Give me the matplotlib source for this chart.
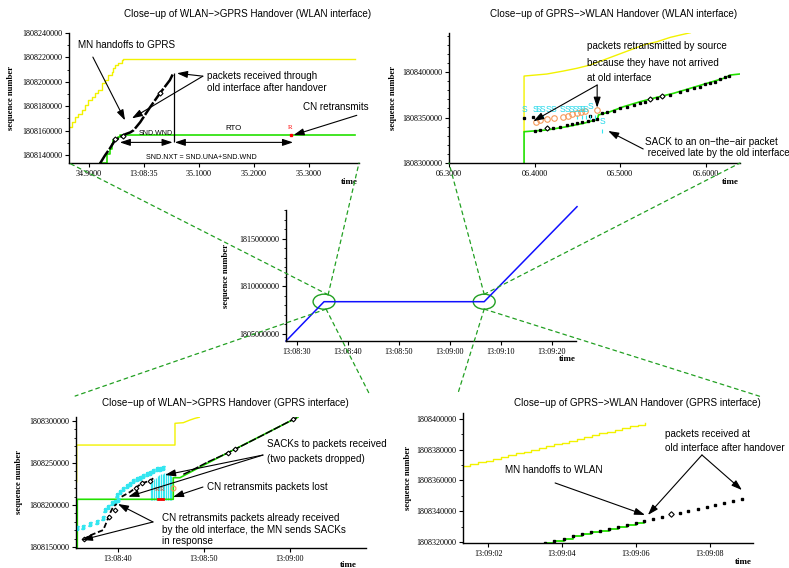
import matplotlib
matplotlib.use('Agg')
import matplotlib.pyplot as plt
from matplotlib.patches import Ellipse, ConnectionPatch
from matplotlib.ticker import MultipleLocator

plt.rcParams['font.family'] = ['Liberation Sans', 'DejaVu Sans']
SERIF = ['Liberation Serif', 'DejaVu Serif']

# ---------------- DATA ----------------
# Panel A: close-up WLAN->GPRS handover, WLAN interface (seconds after 13:08:00)
a_xticks = [34.9, 35.0, 35.1, 35.2, 35.3]
a_xlabels = ['34.9000', '13:08:35', '35.1000', '35.2000', '35.3000']
a_yticks = [1808140000, 1808160000, 1808180000, 1808200000, 1808220000, 1808240000]
a_win_t = [34.862, 34.8685, 34.8745, 34.8805, 34.8867, 34.8927, 34.8987, 34.9049, 34.9109, 34.9169,
           34.9231, 34.9291, 34.9351, 34.9413, 34.9442, 34.9473, 34.9533, 34.9595, 34.9624, 35.384]
a_win_s = [1808162900, 1808167000, 1808171100, 1808173900, 1808176600, 1808180700, 1808184900, 1808187600,
           1808190400, 1808193100, 1808198600, 1808201300, 1808205400, 1808208200, 1808211000, 1808213700,
           1808215100, 1808217800, 1808218400, 1808218400]
a_ack_t = [34.920, 34.9322, 34.9382, 34.9413, 34.9442, 34.9473, 34.9533, 34.9564, 35.384]
a_ack_s = [1808133000, 1808141000, 1808145100, 1808149200, 1808151900, 1808153300, 1808154700, 1808156050, 1808156050]
a_sent_t = [34.920, 34.929, 34.938, 34.947, 34.953, 34.958, 34.966, 34.975, 34.981, 34.993, 35.011, 35.029, 35.047, 35.053]
a_sent_s = [1808133000, 1808139600, 1808145400, 1808151900, 1808153600, 1808155000, 1808157000, 1808158500,
            1808160200, 1808166800, 1808179100, 1808190600, 1808201300, 1808206800]
a_diam_t = [34.947, 34.962, 35.029]
a_diam_s = [1808152800, 1808155500, 1808190400]
a_retx_t = [35.268]
a_retx_s = [1808156050]
a_last_t = 35.055          # time of last segment (start of RTO)
a_wnd_start = 34.956       # SND.WND arrow start
a_rto_end = 35.271         # RTO arrow end
a_arrow_s = 1808150300

# Panel B: close-up GPRS->WLAN handover, WLAN interface (seconds after 13:09:00)
b_xticks = [6.3, 6.4, 6.5, 6.6]
b_xlabels = ['06.3000', '06.4000', '06.5000', '06.6000']
b_yticks = [1808300000, 1808350000, 1808400000]
b_win_t = [6.3877, 6.3877, 6.4143, 6.4337, 6.4494, 6.4649, 6.4805, 6.4961, 6.5117, 6.5272, 6.5429, 6.5585, 6.5702, 6.5819]
b_win_s = [1808334400, 1808395600, 1808397800, 1808401100, 1808404100, 1808407700, 1808413200, 1808418700,
           1808424200, 1808429700, 1808433300, 1808438100, 1808440700, 1808443200]
b_ack_t = [6.3877, 6.3877, 6.4143, 6.4377, 6.4571, 6.4735, 6.4746, 6.4883, 6.5039, 6.5234, 6.5429, 6.5623,
           6.5819, 6.6014, 6.6208, 6.6287, 6.6395]
b_ack_s = [1808300000, 1808334400, 1808336300, 1808339900, 1808343600, 1808348000, 1808352800, 1808356400,
           1808361900, 1808367400, 1808372200, 1808376600, 1808382100, 1808387600, 1808393100, 1808396700, 1808397800]
b_sent_t = [6.4006, 6.4064, 6.4143, 6.4220, 6.4298, 6.4377, 6.4435, 6.4494, 6.4552, 6.4629, 6.4688, 6.4786,
            6.4844, 6.4922, 6.5000, 6.5078, 6.5156, 6.5234, 6.5292, 6.5351, 6.5429, 6.5488, 6.5585, 6.5702,
            6.5780, 6.5857, 6.5936, 6.5994, 6.6053, 6.6111, 6.6170, 6.6228, 6.6267,
            6.3877, 6.3979, 6.4649, 6.4735]
b_sent_s = [1808335200, 1808336300, 1808338100, 1808338800, 1808339900, 1808341800, 1808342900, 1808343600,
            1808344700, 1808346200, 1808347300, 1808354600, 1808356400, 1808357500, 1808360100, 1808361900,
            1808363700, 1808366300, 1808367400, 1808370300, 1808371800, 1808373600, 1808375100, 1808378000,
            1808380200, 1808382100, 1808383900, 1808386500, 1808387600, 1808389300, 1808392300, 1808394800,
            1808395900, 1808349100, 1808350200, 1808352000, 1808348000]
b_diam_t = [6.414, 6.535, 6.549]
b_diam_s = [1808338100, 1808370300, 1808373600]
b_sack_t = [6.388, 6.401, 6.405, 6.409, 6.416, 6.422, 6.433, 6.438, 6.443, 6.448, 6.452, 6.456, 6.460, 6.465, 6.479]
b_sack_s = [1808359000, 1808359000, 1808359000, 1808359000, 1808359000, 1808359000, 1808359000, 1808359000,
            1808359000, 1808359000, 1808359000, 1808359000, 1808359000, 1808362600, 1808345400]
b_sbar_t = [6.404, 6.410, 6.450, 6.455, 6.460, 6.465, 6.470, 6.479]
b_sbar_s = [1808350200, 1808350200, 1808350200, 1808350200, 1808350200, 1808350200, 1808350200, 1808335200]
b_retx_t = [6.4018, 6.4064, 6.4150, 6.4232, 6.4330, 6.4388, 6.4442, 6.4494, 6.4540, 6.4591, 6.4735]
b_retx_s = [1808345400, 1808347300, 1808348400, 1808349800, 1808350900, 1808352000, 1808353500, 1808354600,
            1808355700, 1808357100, 1808358200]

# Main panel: whole connection (seconds after 13:08:00)
m_xticks = [30, 40, 50, 60, 70, 80]
m_xlabels = ['13:08:30', '13:08:40', '13:08:50', '13:09:00', '13:09:10', '13:09:20']
m_yticks = [1805000000, 1810000000, 1815000000]
m_t = [27.84, 35.3, 66.7, 84.9]
m_s = [1804263000, 1808400000, 1808400000, 1818400000]
m_zoom_t = [35.3, 66.7]
m_zoom_s = [1808400000, 1808400000]

# Panel D: close-up WLAN->GPRS handover, GPRS interface (seconds after 13:08:00)
d_xticks = [40, 50, 60]
d_xlabels = ['13:08:40', '13:08:50', '13:09:00']
d_yticks = [1808150000, 1808200000, 1808250000, 1808300000]
d_win_t = [35.20, 35.20, 46.63, 46.63, 47.59, 48.37, 48.95, 49.45]
d_win_s = [1808227700, 1808271400, 1808271400, 1808297300, 1808298000, 1808301200, 1808303200, 1808304500]
d_ack_t = [35.27, 35.27, 46.43, 46.43, 47.21, 49.5, 52.0, 54.5, 57.0, 59.5, 60.9]
d_ack_s = [1808148800, 1808206800, 1808206800, 1808232500, 1808232500, 1808245000, 1808258200,
           1808271200, 1808284200, 1808297200, 1808304400]
d_sent_t = [47.6, 48.37, 50.5, 52.83, 53.60, 57.0, 60.38, 60.97]
d_sent_s = [1808236500, 1808240200, 1808251500, 1808262300, 1808266300, 1808284000, 1808302000, 1808305000]
d_low_t = [35.97, 37.0, 38.29, 38.69, 39.07, 39.45, 39.85]
d_low_s = [1808159200, 1808164800, 1808170200, 1808180100, 1808190100, 1808198000, 1808201200]
d_up_t = [40.43, 41.40, 42.76, 43.72, 44.10]
d_up_s = [1808209900, 1808215500, 1808225800, 1808228900, 1808231800]
d_diam_t = [36.1, 38.9, 39.6, 42.1, 42.76, 43.72, 52.83, 53.60, 60.38]
d_diam_s = [1808159800, 1808186000, 1808194000, 1808220000, 1808225800, 1808228900, 1808262300, 1808266300, 1808302000]
d_sack_up_t = [39.85, 40.23, 40.62, 41.01, 41.40, 41.78, 42.17, 42.56, 42.94, 43.34, 43.72, 44.10, 44.50, 44.88, 45.27]
d_sack_up_s = [1808211900, 1808215500, 1808219100, 1808222600, 1808225000, 1808228600, 1808231000, 1808232700,
               1808234500, 1808236900, 1808238700, 1808240500, 1808242300, 1808242900, 1808243500]
d_sack_lo_t = [35.20, 35.97, 36.74, 37.52, 38.29, 38.49, 38.87, 39.27, 39.65, 40.03]
d_sack_lo_s = [1808172300, 1808174200, 1808177000, 1808180100, 1808184200, 1808194100, 1808198000, 1808202000,
               1808203900, 1808206000]
d_hatch_t = [43.8, 44.0, 44.2, 44.4, 44.6, 44.8, 45.0, 45.2, 45.4, 45.6, 45.8, 46.0, 46.2]
d_hatch_top = [1808226000, 1808228500, 1808230500, 1808232500, 1808234000, 1808235500, 1808236500,
               1808237300, 1808238000, 1808238000, 1808237300, 1808236000, 1808234000]
d_hatch_bot = 1808206500
d_R_t = [44.6, 45.1]
d_R_s = [1808217900, 1808217900]
d_retx_t = [46.36]
d_retx_s = [1808219900]
d_red_t = [44.6, 45.2]
d_red_s = [1808207000, 1808207000]

# Panel E: close-up GPRS->WLAN handover, GPRS interface (seconds after 13:08:00)
e_xticks = [62, 64, 66, 68]
e_xlabels = ['13:09:02', '13:09:04', '13:09:06', '13:09:08']
e_yticks = [1808320000, 1808340000, 1808360000, 1808380000, 1808400000]
e_win_t = [61.32, 61.52, 61.72, 61.93, 62.13, 62.34, 62.55, 62.75, 62.96, 63.16, 63.37, 63.57, 63.78,
           63.99, 64.19, 64.40, 64.60, 64.81, 65.01, 65.22, 65.43, 65.63, 65.84, 66.04, 66.24]
e_win_s = [1808369400, 1808370600, 1808371800, 1808372900, 1808374100, 1808375300, 1808376500, 1808377600,
           1808378800, 1808380000, 1808381200, 1808382300, 1808383500, 1808384700, 1808385900, 1808387000,
           1808388200, 1808389400, 1808390600, 1808391700, 1808392900, 1808394100, 1808395300, 1808396400, 1808397400]
e_ack_t = [63.54, 63.78, 64.04, 64.29, 64.53, 64.78, 65.03, 65.27, 65.51, 65.75, 66.00, 66.22]
e_ack_s = [1808319500, 1808320700, 1808322200, 1808323700, 1808325000, 1808326300, 1808327400, 1808328500,
           1808329800, 1808331100, 1808332600, 1808333900]
e_old_t = [66.47, 66.71, 67.19, 67.41, 67.66, 67.91, 68.14, 68.38, 68.61, 68.86]
e_old_s = [1808335000, 1808336500, 1808339100, 1808340200, 1808341500, 1808343000, 1808344300, 1808345600,
           1808346900, 1808348200]
e_diam_t = [66.94]
e_diam_s = [1808338200]

# ---------------- FIGURE ----------------
W, H = 789, 568
fig = plt.figure(figsize=(W / 100, H / 100), dpi=100)


def add_ax(left, top, right, bottom):
    return fig.add_axes([left / W, 1 - bottom / H, (right - left) / W, (bottom - top) / H])


YEL = '#f2f200'
GRN = '#22e000'
CYA = '#33e6f0'
ORA = '#f59a5a'
ANN = dict(arrowstyle='-|>,head_length=0.9,head_width=0.3', color='black', lw=0.8, mutation_scale=7,
           shrinkA=0, shrinkB=0)


def style(ax, xt, xl, yt, yminor, xlim, ylim, ylab_x, time_xy, title=None, title_xy=None):
    for s in ['top', 'right']:
        ax.spines[s].set_visible(False)
    for s in ['left', 'bottom']:
        ax.spines[s].set_linewidth(1.0)
    ax.set_xlim(*xlim)
    ax.set_ylim(*ylim)
    ax.set_xticks(xt)
    ax.set_xticklabels(xl, fontfamily=SERIF, fontsize=5.9)
    ax.set_yticks(yt)
    ax.set_yticklabels([str(v) for v in yt], fontfamily=SERIF, fontsize=5.9)
    ax.yaxis.set_minor_locator(MultipleLocator(yminor))
    ax.tick_params(which='major', length=3, width=0.8, pad=2)
    ax.tick_params(which='minor', length=1.5, width=0.6)
    ax.set_ylabel('sequence number', fontfamily=SERIF, fontsize=6.2, fontweight='bold')
    ax.yaxis.set_label_coords(ylab_x, 0.5)
    ax.text(time_xy[0], time_xy[1], 'time', transform=ax.transAxes, fontfamily=SERIF, fontsize=6.5,
            fontweight='bold', ha='center', va='center')
    if title:
        ax.text(title_xy[0], title_xy[1], title, transform=ax.transAxes, fontsize=7.1, ha='center', va='center')
    ax.patch.set_alpha(0)


def arrow(ax, tail, head, style=None):
    props = dict(ANN)
    if style:
        props['arrowstyle'] = style
    ax.annotate('', xy=head, xytext=tail, xycoords='data', textcoords='data', arrowprops=props,
                annotation_clip=False)


# ---- Panel A ----
axA = add_ax(69, 33, 359, 163)
axA.step(a_win_t, a_win_s, where='post', color=YEL, lw=1.0)
axA.step(a_ack_t, a_ack_s, where='post', color=GRN, lw=1.2)
axA.plot(a_sent_t, a_sent_s, color='black', lw=1.8, dashes=(6, 0.8))
axA.plot(a_diam_t, a_diam_s, ls='none', marker='D', ms=2.6, mfc='white', mec='black', mew=0.8)
axA.plot(a_retx_t, a_retx_s, ls='none', marker='s', ms=1.8, color='red')
axA.text(a_retx_t[0] - 0.002, a_retx_s[0] + 5000, 'R', color='red', fontfamily=SERIF, fontsize=5, ha='center')
axA.vlines(a_last_t, a_arrow_s, a_sent_s[-1], color='black', lw=0.9)
arrow(axA, (a_wnd_start, a_arrow_s), (a_last_t - 0.003, a_arrow_s), '<|-|>,head_length=0.9,head_width=0.3')
arrow(axA, (a_last_t + 0.001, a_arrow_s), (a_rto_end, a_arrow_s), '<|-|>,head_length=0.9,head_width=0.3')
axA.text(35.022, 1808157950, 'SND.WND', fontsize=5.0, ha='center', va='center')
axA.text(35.162, 1808161800, 'RTO', fontsize=5.7, ha='center', va='center')
axA.text(35.105, 1808138000, 'SND.NXT = SND.UNA+SND.WND', fontsize=5.1, ha='center', va='center')
axA.text(34.880, 1808230100, 'MN handoffs to GPRS', fontsize=7.1, ha='left', va='center')
arrow(axA, (34.907, 1808220250), (34.9655, 1808168400))
axA.text(35.1145, 1808200100, 'packets received through\nold interface after handover', fontsize=7.1,
         ha='left', va='center', linespacing=1.25)
arrow(axA, (35.107, 1808204600), (35.060, 1808207000))
arrow(axA, (35.107, 1808204600), (34.978, 1808170000))
axA.text(35.289, 1808179100, 'CN retransmits', fontsize=7.1, ha='left', va='center')
arrow(axA, (35.387, 1808172500), (35.272, 1808156300))
style(axA, a_xticks, a_xlabels, a_yticks, 10000, (34.8636, 35.391), (1808133400, 1808240000),
      -0.186, (0.966, -0.146), 'Close\u2212up of WLAN\u2212>GPRS Handover (WLAN interface)', (0.617, 1.146))

# ---- Panel B ----
axB = add_ax(449, 33, 740, 163)
axB.plot(b_win_t, b_win_s, color=YEL, lw=1.0)
axB.plot(b_ack_t, b_ack_s, color=GRN, lw=1.2)
axB.plot(b_sent_t, b_sent_s, ls='none', marker='s', ms=1.4, color='black')
axB.plot(b_diam_t, b_diam_s, ls='none', marker='D', ms=2.6, mfc='white', mec='black', mew=0.8)
for t, s in zip(b_sack_t, b_sack_s):
    axB.text(t, s, 'S', color='#22d8ea', fontsize=6.2, ha='center', va='center')
axB.plot(b_sbar_t, b_sbar_s, ls='none', marker='|', ms=3, mew=0.8, color=CYA)
axB.plot(b_retx_t, b_retx_s, ls='none', marker='o', ms=4, mfc='none', mec=ORA, mew=0.8)
axB.text(6.4614, 1808428570, 'packets retransmitted by source', fontsize=7.1, ha='left', va='center')
axB.text(6.4614, 1808409890, 'because they have not arrived', fontsize=7.1, ha='left', va='center')
axB.text(6.4614, 1808393410, 'at old interface', fontsize=7.1, ha='left', va='center')
arrow(axB, (6.4731, 1808385700), (6.3985, 1808346000))
arrow(axB, (6.4731, 1808385700), (6.4731, 1808360800))
axB.text(6.5292, 1808323080, 'SACK to an on\u2212the\u2212air packet', fontsize=7.1, ha='left', va='center')
axB.text(6.5292, 1808310990, ' received late by the old interface', fontsize=7.1, ha='left', va='center')
arrow(axB, (6.5269, 1808315400), (6.486, 1808335200))
style(axB, b_xticks, b_xlabels, b_yticks, 10000, (6.3, 6.640), (1808300000, 1808442900),
      -0.179, (0.966, -0.146), 'Close\u2212up of GPRS\u2212>WLAN Handover (WLAN interface)', (0.564, 1.146))

# ---- Main panel ----
axM = add_ax(286, 210, 576, 341)
axM.plot(m_t, m_s, color='#1010ff', lw=1.1, clip_on=False)
for t, s in zip(m_zoom_t, m_zoom_s):
    axM.add_patch(Ellipse((t, s), 4.3, 1.58e6, fill=False, edgecolor='#22a022', lw=1.0))
style(axM, m_xticks, m_xlabels, m_yticks, 1000000, (27.84, 84.7), (1804263000, 1818050000),
      -0.193, (0.969, -0.137))

# ---- Panel D ----
axD = add_ax(76, 417, 366, 548)
axD.plot(d_win_t, d_win_s, color=YEL, lw=1.0)
axD.vlines(d_hatch_t, d_hatch_bot, d_hatch_top, color=CYA, lw=0.9)
axD.plot(d_ack_t, d_ack_s, color=GRN, lw=1.2)
axD.plot(d_sack_up_t, d_sack_up_s, ls='none', marker='$S$', ms=3.0, color=CYA)
axD.plot(d_sack_lo_t, d_sack_lo_s, ls='none', marker='$S$', ms=3.0, color=CYA)
axD.plot(d_sent_t, d_sent_s, color='black', lw=1.1, dashes=(5, 1))
axD.plot(d_low_t, d_low_s, color='black', lw=1.3, dashes=(3, 1.5))
axD.plot(d_up_t, d_up_s, color='black', lw=1.3, dashes=(3, 1.5))
axD.plot(d_diam_t, d_diam_s, ls='none', marker='D', ms=2.4, mfc='white', mec='black', mew=0.8)
for t, s in zip(d_R_t, d_R_s):
    axD.text(t, s, 'R', color='#e04020', fontfamily=SERIF, fontsize=5, ha='center', va='center')
axD.plot(d_retx_t, d_retx_s, ls='none', marker='o', ms=3.5, mfc='none', mec=ORA, mew=0.8)
axD.plot(d_red_t, d_red_s, color='red', lw=2.0)
axD.text(57.33, 1808272620, 'SACKs to packets received', fontsize=7.1, ha='left', va='center')
axD.text(57.33, 1808254760, '(two packets dropped)', fontsize=7.1, ha='left', va='center')
arrow(axD, (56.86, 1808259500), (45.47, 1808235700))
arrow(axD, (56.86, 1808259500), (41.20, 1808209900))
axD.text(50.35, 1808221430, 'CN retransmits packets lost', fontsize=7.1, ha='left', va='center')
arrow(axD, (49.88, 1808221400), (46.40, 1808209500))
axD.text(45.12, 1808184520, 'CN retransmits packets already received', fontsize=7.1, ha='left', va='center')
axD.text(45.12, 1808170240, 'by the old interface, the MN sends SACKs', fontsize=7.1, ha='left', va='center')
axD.text(45.12, 1808157140, 'in response', fontsize=7.1, ha='left', va='center')
arrow(axD, (44.07, 1808179800), (40.0, 1808201200))
arrow(axD, (44.07, 1808179800), (35.81, 1808158300))
style(axD, d_xticks, d_xlabels, d_yticks, 10000, (35.12, 68.84), (1808148800, 1808304800),
      -0.183, (0.938, -0.13), 'Close\u2212up of WLAN\u2212>GPRS Handover (GPRS interface)', (0.514, 1.107))

# ---- Panel E ----
axE = add_ax(463, 413, 753, 543)
axE.step(e_win_t, e_win_s, where='post', color=YEL, lw=1.0)
axE.step(e_ack_t, e_ack_s, where='post', color=GRN, lw=1.3)
axE.plot(e_ack_t, e_ack_s, ls='none', marker='s', ms=1.8, color='black')
axE.plot(e_old_t, e_old_s, ls='none', marker='s', ms=1.8, color='black')
axE.plot(e_diam_t, e_diam_s, ls='none', marker='D', ms=2.8, mfc='white', mec='black', mew=0.8)
axE.text(62.46, 1808366830, 'MN handoffs to WLAN', fontsize=7.1, ha='left', va='center')
arrow(axE, (63.81, 1808358400), (66.24, 1808337600))
axE.text(66.78, 1808390240, 'packets received at', fontsize=7.1, ha='left', va='center')
axE.text(66.78, 1808381140, 'old interface after handover', fontsize=7.1, ha='left', va='center')
arrow(axE, (67.78, 1808376600), (66.32, 1808337600))
arrow(axE, (67.78, 1808376600), (68.86, 1808353800))
style(axE, e_xticks, e_xlabels, e_yticks, 10000, (61.32, 69.16), (1808319350, 1808403900),
      -0.176, (0.966, -0.146), 'Close\u2212up of GPRS\u2212>WLAN Handover (GPRS interface)', (0.6, 1.077))

# ---- zoom connector lines ----
CON = dict(color='#22a022', lw=0.9, linestyle=(0, (3, 3)))
lt, rt = m_zoom_t
ls_, rs = m_zoom_s
links = [
    ((lt + 0.8, ls_ + 0.73e6), axA, (0.0, 0.0)),
    ((lt + 0.8, ls_ + 0.73e6), axA, (1.0, 0.0)),
    ((lt + 0.4, ls_ - 0.78e6), axD, (-0.003, 1.16)),
    ((lt + 0.4, ls_ - 0.78e6), axD, (1.01, 1.183)),
    ((rt, rs + 0.78e6), axB, (0.0, 0.0)),
    ((rt, rs + 0.78e6), axB, (1.0, 0.0)),
    ((rt, rs - 0.78e6), axE, (-0.017, 1.154)),
    ((rt, rs - 0.78e6), axE, (1.031, 1.123)),
]
for pA, axT, pB in links:
    con = ConnectionPatch(xyA=pA, coordsA='data', axesA=axM, xyB=pB, coordsB=axT.transAxes,
                          arrowstyle='-', **CON)
    fig.add_artist(con)

fig.savefig('out.png', dpi=100)
